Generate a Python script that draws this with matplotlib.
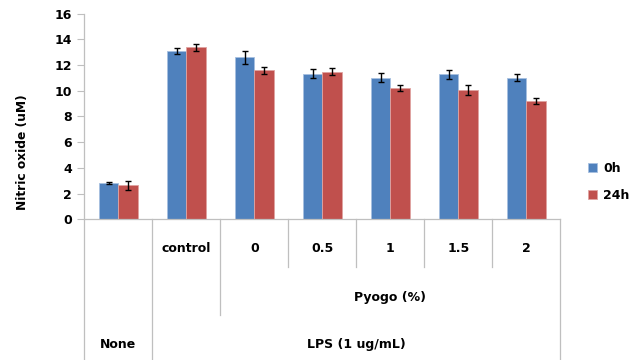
import matplotlib
matplotlib.use("Agg")
import matplotlib.pyplot as plt
import numpy as np

plt.rcParams['font.family'] = ['DejaVu Sans']

categories = ["None", "control", "0", "0.5", "1", "1.5", "2"]
series_names = ["0h", "24h"]
no_0h = [2.85, 13.08, 12.59, 11.32, 11.01, 11.27, 11.01]
no_0h_err = [0.08, 0.26, 0.48, 0.34, 0.34, 0.34, 0.28]
no_24h = [2.64, 13.37, 11.58, 11.48, 10.21, 10.05, 9.20]
no_24h_err = [0.33, 0.25, 0.28, 0.26, 0.26, 0.40, 0.25]
y_ticks = [0, 2, 4, 6, 8, 10, 12, 14, 16]

blue = "#4F81BD"
red = "#C0504D"
grid_col = "#BFBFBF"

fig = plt.figure(figsize=(6.37, 3.60), dpi=100)
ax = fig.add_axes([0.1323, 0.3906, 0.7473, 0.5719])

x = np.arange(len(categories))
w = 0.284
err_kw = dict(ecolor="black", elinewidth=1.0, capsize=2.5, capthick=1.0)
b1 = ax.bar(x - w / 2, no_0h, w, color=blue, edgecolor="#A7C0E0", linewidth=0.6,
            yerr=no_0h_err, error_kw=err_kw, label=series_names[0])
b2 = ax.bar(x + w / 2, no_24h, w, color=red, edgecolor="#E0A3A1", linewidth=0.6,
            yerr=no_24h_err, error_kw=err_kw, label=series_names[1])

ax.set_xlim(-0.5, len(categories) - 0.5)
ax.set_ylim(0, 16)
ax.set_yticks(y_ticks)
ax.set_yticklabels([str(t) for t in y_ticks], fontsize=9, fontweight="bold")
ax.tick_params(axis="y", length=5, width=0.8, color=grid_col, pad=4)
ax.set_xticks([])
for side in ["top", "right"]:
    ax.spines[side].set_visible(False)
ax.spines["left"].set_color(grid_col)
ax.spines["bottom"].set_color(grid_col)
ax.spines["left"].set_linewidth(0.9)
ax.spines["bottom"].set_linewidth(0.9)

# multi-level category table under the axis
tr = ax.get_xaxis_transform()
bottom = -0.70
line_ends = {-0.5: bottom, 0.5: bottom, 1.5: -0.464, 2.5: -0.231,
             3.5: -0.231, 4.5: -0.231, 5.5: -0.231, 6.5: bottom}
for xb, yb in line_ends.items():
    ax.plot([xb, xb], [0, yb], transform=tr, color=grid_col, lw=0.9, clip_on=False)

lab_kw = dict(transform=tr, ha="center", va="center", fontsize=9, fontweight="bold")
for xi, lab in zip(x[1:], categories[1:]):
    ax.text(xi, -0.143, lab, **lab_kw)
ax.text(4.0, -0.378, "Pyogo (%)", **lab_kw)
ax.text(0.0, -0.607, "None", **lab_kw)
ax.text(3.5, -0.607, "LPS (1 ug/mL)", **lab_kw)

fig.text(0.036, 0.578, "Nitric oxide (uM)", rotation=90, ha="center", va="center",
         fontsize=8.8, fontweight="bold")

leg = fig.legend(handles=[b1, b2], labels=series_names, loc="center left",
                 bbox_to_anchor=(0.905, 0.495), frameon=False,
                 prop=dict(weight="bold", size=9), handlelength=0.75, handleheight=0.75,
                 handletextpad=0.5, labelspacing=1.1)

fig.savefig("out.png", dpi=100)
